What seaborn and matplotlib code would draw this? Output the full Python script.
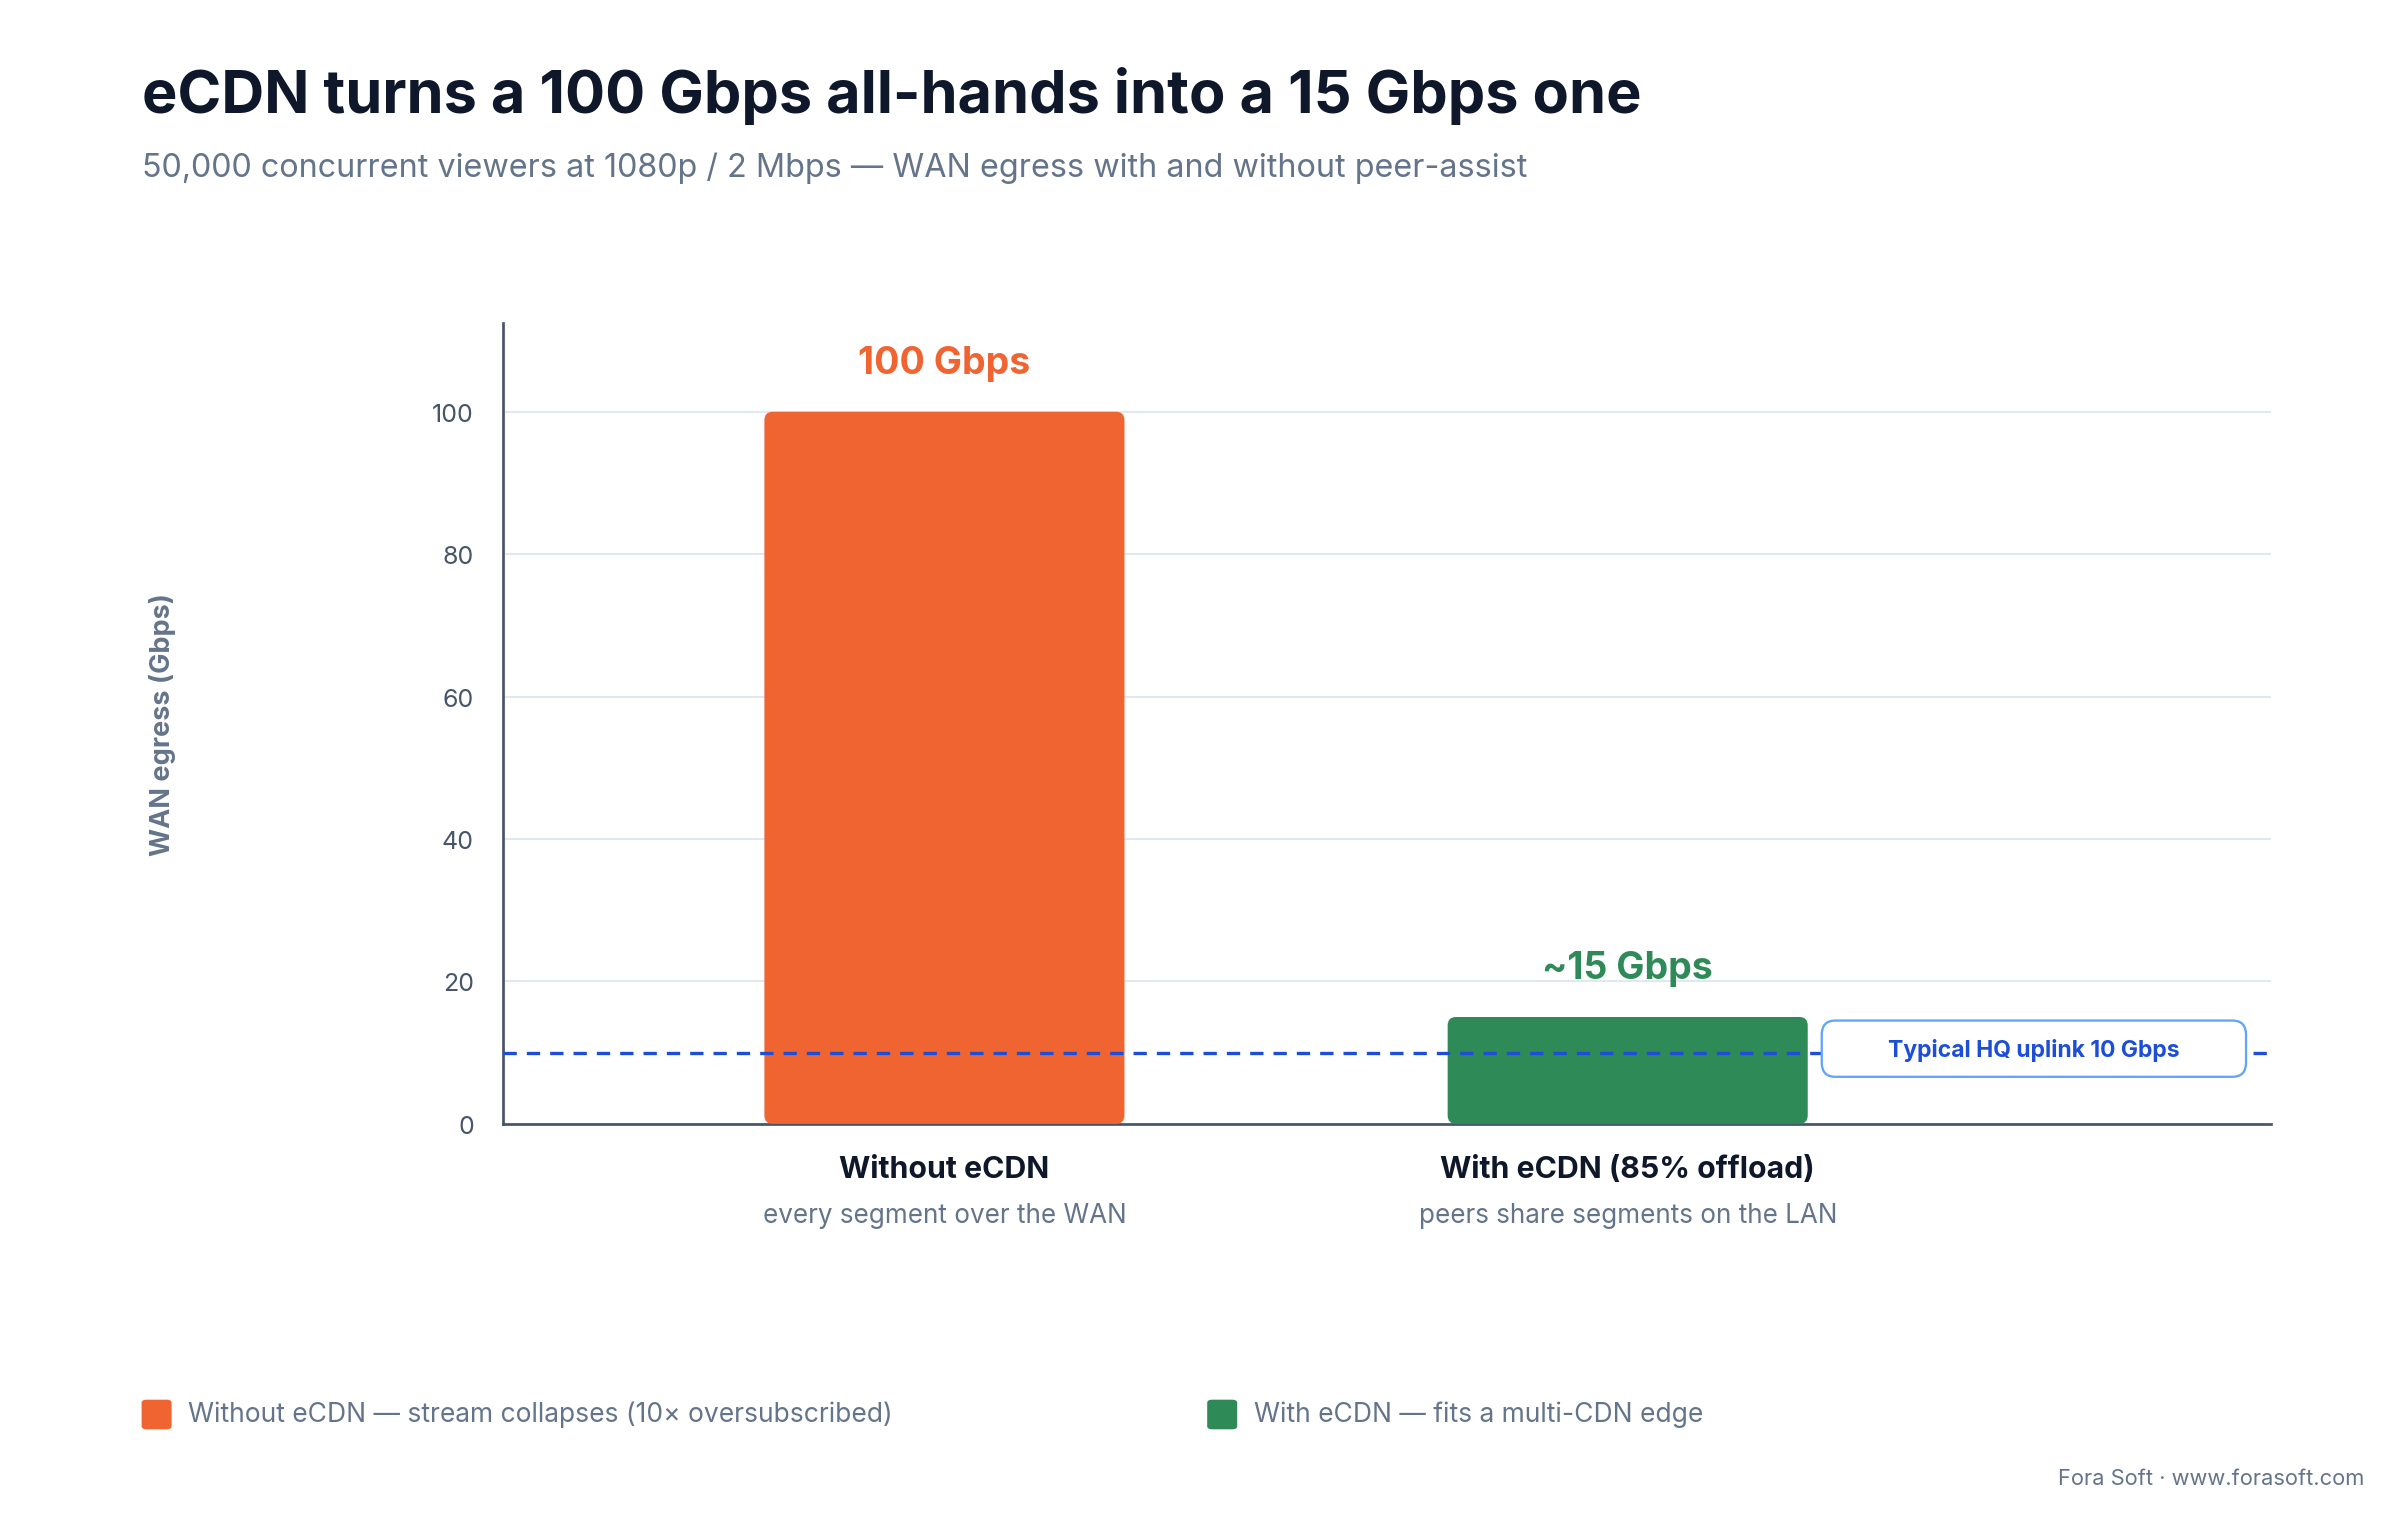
import matplotlib
matplotlib.use("Agg")
import matplotlib.pyplot as plt
import seaborn as sns
import pandas as pd
from matplotlib.patches import FancyBboxPatch

# data
categories = ["Without eCDN", "With eCDN (85% offload)"]
subtitles = ["every segment over the WAN", "peers share segments on the LAN"]
egress = [100, 15]
value_labels = ["100 Gbps", "~15 Gbps"]
colors = ["#f06432", "#2e8b57"]
uplink = 10
legend_labels = ["Without eCDN \u2014 stream collapses (10\u00d7 oversubscribed)",
                 "With eCDN \u2014 fits a multi-CDN edge"]

sns.set_theme(style="white")
plt.rcParams["font.family"] = ["Inter", "DejaVu Sans"]

df = pd.DataFrame({"cat": categories, "val": egress})

fig = plt.figure(figsize=(16, 10.1333), dpi=150)
ax = fig.add_axes([0.2096, 0.260, 0.7365, 0.527])
sns.barplot(data=df, x="cat", y="val", hue="cat", palette=colors, order=categories,
            width=0.527, legend=False, ax=ax, saturation=1)

# rounded bars
for p, c in zip(list(ax.patches), colors):
    x, y, w, h = p.get_x(), p.get_y(), p.get_width(), p.get_height()
    p.set_visible(False)
    ax.add_patch(FancyBboxPatch((x, y), w, h, boxstyle="round,pad=0,rounding_size=0.012",
                                mutation_aspect=100, fc=c, ec="none", zorder=3))

ax.set_xlim(-0.646, 1.941)
ax.set_ylim(0, 112.5)
ax.set_yticks([0, 20, 40, 60, 80, 100])
ax.yaxis.grid(True, color="#e2e8f0", lw=1)
ax.set_axisbelow(True)
for s in ["top", "right"]:
    ax.spines[s].set_visible(False)
for s in ["left", "bottom"]:
    ax.spines[s].set_color("#475569")
    ax.spines[s].set_linewidth(1.3)
ax.tick_params(axis="y", labelsize=12, colors="#475569", length=0, pad=14)
ax.tick_params(axis="x", length=0)
ax.set_xticks([0, 1])
ax.set_xticklabels([])
ax.set_xlabel("")
ax.set_ylabel("WAN egress (Gbps)", fontsize=13, fontweight="bold", color="#64748b", labelpad=0)
ax.yaxis.set_label_coords(-0.185, 0.5)

for i, (v, lab, c) in enumerate(zip(egress, value_labels, colors)):
    ax.text(i, v + 4.3, lab, ha="center", va="bottom", fontsize=18, fontweight="bold", color=c)
    ax.text(i, -6.3, categories[i], ha="center", va="center", fontsize=14.5, fontweight="bold",
            color="#0f172a")
    ax.text(i, -12.8, subtitles[i], ha="center", va="center", fontsize=12.5, color="#64748b")

ax.axhline(uplink, color="#1d4ed8", ls=(0, (4, 3)), lw=1.6, zorder=4)
ax.add_patch(FancyBboxPatch((1.284, 6.6), 0.621, 7.9, boxstyle="round,pad=0,rounding_size=0.02",
                            mutation_aspect=100, fc="white", ec="#60a5fa", lw=1.1, zorder=5))
ax.text(1.595, 10.5, "Typical HQ uplink 10 Gbps", ha="center", va="center", fontsize=11,
        fontweight="bold", color="#1d4ed8", zorder=6)

fig.text(0.059, 0.937, "eCDN turns a 100 Gbps all-hands into a 15 Gbps one", fontsize=28.5,
         fontweight="bold", color="#0f172a", va="center")
fig.text(0.059, 0.889, "50,000 concurrent viewers at 1080p / 2 Mbps \u2014 WAN egress with and without peer-assist",
         fontsize=15.5, color="#64748b", va="center")

for xl, lab, c in zip([0.059, 0.503], legend_labels, colors):
    fig.patches.append(FancyBboxPatch((xl, 0.059), 0.0125, 0.0195,
                                      boxstyle="round,pad=0,rounding_size=0.002",
                                      transform=fig.transFigure, fc=c, ec="none"))
    fig.text(xl + 0.0195, 0.069, lab, fontsize=12.7, color="#64748b", va="center")

fig.text(0.985, 0.027, "Fora Soft \u00b7 www.forasoft.com", fontsize=10.5, color="#64748b",
         ha="right", va="center")

fig.savefig("out.png", dpi=150, facecolor="white")
